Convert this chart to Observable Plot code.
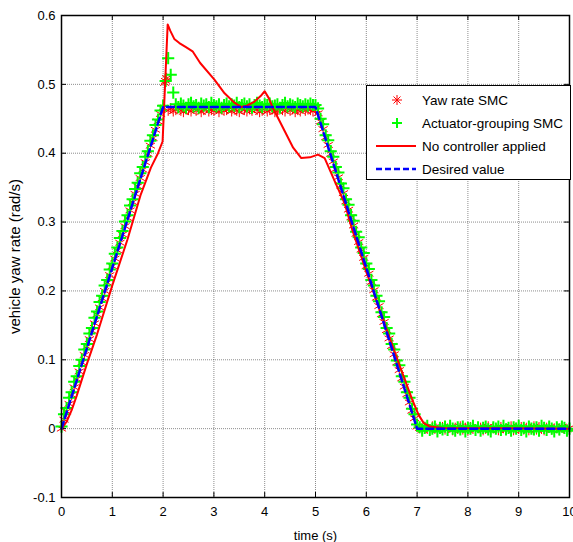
<!DOCTYPE html>
<html>
<head>
<meta charset="utf-8">
<script src="https://cdn.jsdelivr.net/npm/d3@7"></script>
<script src="https://cdn.jsdelivr.net/npm/@observablehq/plot@0.6"></script>
<style>
  html, body { margin: 0; padding: 0; background: #fff; }
  #wrap { position: relative; width: 573px; height: 542px; font-family: "Liberation Sans", Arial, sans-serif; }
  .legend { position: absolute; left: 366px; top: 85px; width: 205px; height: 95px; border: 1px solid #000; background: #fff; box-sizing: border-box; }
  .legend .row { position: absolute; left: 0; height: 22px; width: 100%; }
  .legend svg { position: absolute; left: 8px; top: 0; }
  .legend span { position: absolute; left: 55px; top: 3px; font-size: 13.5px; line-height: 16px; color: #000; white-space: nowrap; }
</style>
</head>
<body>
<div id="wrap"></div>
<script>
// Sampling instants of the two controlled responses (every 0.05 s)
const sampleTime = d3.range(0, 201).map(i => i / 20);

// Yaw rate SMC response (rad/s) at each sample
const yawSmcRate = [
  // 0 – 2 s
  0.000, 0.013, 0.025, 0.036, 0.049, 0.060, 0.072, 0.083, 0.096, 0.107,
  0.119, 0.130, 0.142, 0.153, 0.166, 0.176, 0.189, 0.200, 0.212, 0.223,
  0.236, 0.247, 0.259, 0.270, 0.282, 0.294, 0.306, 0.317, 0.329, 0.341,
  0.352, 0.364, 0.376, 0.387, 0.399, 0.411, 0.422, 0.434, 0.446, 0.457,
  0.466,
  // 2.05 s
  0.505,
  // 2.10 – 4.95 s
  0.462, 0.465, 0.461, 0.463, 0.466, 0.462, 0.460, 0.464, 0.463, 0.461,
  0.465, 0.462, 0.464, 0.460, 0.463, 0.466, 0.461, 0.463, 0.462, 0.465,
  0.460, 0.464, 0.462, 0.463, 0.466, 0.461, 0.464, 0.462, 0.460, 0.465,
  0.463, 0.461, 0.464, 0.462, 0.466, 0.463, 0.460, 0.462, 0.465, 0.461,
  0.463, 0.464, 0.460, 0.462, 0.466, 0.463, 0.461, 0.465, 0.462, 0.464,
  0.460, 0.463, 0.461, 0.465, 0.462, 0.464, 0.463, 0.461,
  // 5.00 s
  0.464,
  // 5.05 – 6.95 s
  0.458, 0.446, 0.435, 0.423, 0.412, 0.399, 0.388, 0.377, 0.365, 0.353,
  0.342, 0.330, 0.318, 0.307, 0.295, 0.283, 0.271, 0.260, 0.248, 0.236,
  0.225, 0.213, 0.201, 0.190, 0.178, 0.166, 0.155, 0.143, 0.131, 0.120,
  0.108, 0.096, 0.085, 0.073, 0.061, 0.050, 0.038, 0.026, 0.015,
  // 7.00 s
  0.003,
  // 7.05 – 10 s
  0.001, -0.002, 0.002, 0.000, -0.001, 0.003, 0.000, -0.002, 0.001, 0.002,
  -0.001, 0.000, 0.002, -0.002, 0.001, 0.000, 0.003, -0.001, 0.001, -0.002,
  0.002, 0.000, -0.001, 0.002, 0.001, -0.002, 0.000, 0.003, -0.001, 0.001,
  0.000, -0.002, 0.002, 0.001, -0.001, 0.000, 0.003, -0.002, 0.001, 0.000,
  0.002, -0.001, 0.001, -0.002, 0.000, 0.003, -0.001, 0.002, 0.000, -0.002,
  0.001, 0.002, -0.001, 0.000, 0.001, -0.002, 0.003, 0.000, -0.001, 0.001
];
// Extra samples of the yaw rate SMC overshoot just after 2 s
const yawSmcBurstTime = [2.03, 2.07];
const yawSmcBurstRate = [0.502, 0.509];

// Actuator-grouping SMC response (rad/s) at each sample
const groupSmcRate = [
  // 0 – 2 s
  0.003, 0.021, 0.030, 0.045, 0.053, 0.068, 0.076, 0.091, 0.100, 0.115,
  0.123, 0.138, 0.146, 0.161, 0.170, 0.184, 0.193, 0.208, 0.216, 0.231,
  0.240, 0.254, 0.263, 0.277, 0.287, 0.301, 0.310, 0.324, 0.333, 0.348,
  0.357, 0.371, 0.380, 0.395, 0.403, 0.418, 0.426, 0.441, 0.449, 0.462,
  0.469,
  // 2.05 – 2.20 s
  0.505, 0.538, 0.514, 0.488,
  // 2.25 – 4.95 s
  0.471, 0.467, 0.472, 0.469, 0.466, 0.471, 0.473, 0.468, 0.470, 0.466,
  0.472, 0.469, 0.471, 0.467, 0.473, 0.470, 0.468, 0.471, 0.466, 0.470,
  0.472, 0.468, 0.471, 0.469, 0.473, 0.467, 0.470, 0.472, 0.468, 0.471,
  0.466, 0.470, 0.473, 0.469, 0.467, 0.471, 0.470, 0.472, 0.468, 0.469,
  0.471, 0.466, 0.470, 0.473, 0.468, 0.471, 0.469, 0.467, 0.472, 0.470,
  0.468, 0.471, 0.469, 0.472, 0.470,
  // 5.00 s
  0.470,
  // 5.05 – 6.95 s
  0.465, 0.450, 0.442, 0.426, 0.419, 0.403, 0.395, 0.380, 0.372, 0.356,
  0.349, 0.333, 0.325, 0.310, 0.302, 0.286, 0.278, 0.263, 0.255, 0.240,
  0.232, 0.216, 0.208, 0.193, 0.185, 0.169, 0.162, 0.146, 0.138, 0.123,
  0.115, 0.099, 0.092, 0.076, 0.068, 0.053, 0.045, 0.029, 0.021,
  // 7.00 s
  0.006,
  // 7.05 – 10 s
  0.002, -0.003, 0.001, 0.004, -0.002, 0.000, 0.003, -0.004, 0.001, -0.001,
  0.003, -0.002, 0.004, 0.000, -0.003, 0.002, -0.001, 0.003, -0.004, 0.001,
  0.000, 0.004, -0.002, 0.002, -0.003, 0.001, 0.003, -0.001, -0.004, 0.002,
  0.000, 0.003, -0.002, 0.004, -0.001, 0.001, -0.003, 0.002, 0.000, 0.004,
  -0.002, 0.001, -0.004, 0.003, 0.000, -0.001, 0.002, -0.003, 0.004, 0.001,
  -0.002, 0.003, 0.000, -0.004, 0.002, -0.001, 0.003, 0.001, -0.003, 0.000
];

// Uncontrolled vehicle
const noCtrlTime = [0, 0.1, 0.2, 0.3, 0.5, 0.7, 1.0, 1.3, 1.56, 1.76, 1.9, 1.99, 2.09, 2.14, 2.22, 2.32,
  2.45, 2.58, 2.73, 3.01, 3.21, 3.41, 3.54, 3.65, 3.8, 3.92, 4.0, 4.08, 4.16, 4.36, 4.56, 4.72,
  4.89, 5.05, 5.18, 5.38, 5.58, 5.71, 6.0, 6.3, 6.6, 6.9, 7.03, 7.13, 7.25, 7.5, 10];
const noCtrlRate = [0, 0.010, 0.027, 0.048, 0.094, 0.137, 0.208, 0.275, 0.340, 0.379, 0.400, 0.417, 0.587, 0.578, 0.566, 0.560,
  0.554, 0.548, 0.531, 0.507, 0.487, 0.473, 0.467, 0.469, 0.475, 0.483, 0.490, 0.480, 0.466, 0.437, 0.408, 0.393,
  0.394, 0.398, 0.393, 0.359, 0.326, 0.292, 0.228, 0.165, 0.103, 0.043, 0.020, 0.008, 0.003, 0.001, 0];

// Reference yaw rate
const desiredTime = [0, 2, 5, 7, 10];
const desiredRate = [0, 0.467, 0.467, 0, 0];

// Axis ticks
const xTicks = [0, 1, 2, 3, 4, 5, 6, 7, 8, 9, 10];
const yTicks = [-0.1, 0, 0.1, 0.2, 0.3, 0.4, 0.5, 0.6];

const yawSmc = sampleTime.map((t, i) => ({t, v: yawSmcRate[i]}))
  .concat(yawSmcBurstTime.map((t, i) => ({t, v: yawSmcBurstRate[i]})));
const groupSmc = sampleTime.map((t, i) => ({t, v: groupSmcRate[i]}));
const noCtrl = noCtrlTime.map((t, i) => ({t, v: noCtrlRate[i]}));
const desired = desiredTime.map((t, i) => ({t, v: desiredRate[i]}));

const gridStyle = {stroke: "#000", strokeOpacity: 0.45, strokeWidth: 1, strokeDasharray: "1,1"};

const chart = Plot.plot({
  width: 573,
  height: 542,
  marginLeft: 61,
  marginRight: 4,
  marginTop: 15,
  marginBottom: 45,
  style: {fontFamily: "'Liberation Sans', Arial, sans-serif", fontSize: "13px", color: "#000", background: "#fff"},
  x: {domain: [0, 10]},
  y: {domain: [-0.1, 0.6]},
  marks: [
    Plot.gridX(xTicks, gridStyle),
    Plot.gridY(yTicks, gridStyle),
    // inward tick marks on all four sides
    Plot.tickX(xTicks, {x: d => d, insetTop: 477, stroke: "#000"}),
    Plot.tickX(xTicks, {x: d => d, insetBottom: 477, stroke: "#000"}),
    Plot.tickY(yTicks, {y: d => d, insetRight: 503, stroke: "#000"}),
    Plot.tickY(yTicks, {y: d => d, insetLeft: 503, stroke: "#000"}),
    Plot.dot(yawSmc, {x: "t", y: "v", symbol: "asterisk", r: 5, stroke: "#ff0000", strokeWidth: 1}),
    Plot.dot(groupSmc, {x: "t", y: "v", symbol: "plus", r: 4, stroke: "#00ff00", strokeWidth: 2}),
    Plot.line(noCtrl, {x: "t", y: "v", stroke: "#ff0000", strokeWidth: 2}),
    Plot.line(desired, {x: "t", y: "v", stroke: "#0000ff", strokeWidth: 2.5, strokeDasharray: "7,4"}),
    Plot.frame({stroke: "#000", strokeWidth: 1.5}),
    Plot.axisX({ticks: xTicks, tickSize: 0, tickPadding: 9, tickFormat: d => String(d),
      label: "time (s)", labelAnchor: "center", labelArrow: "none", labelOffset: 42}),
    Plot.axisY({ticks: yTicks, tickSize: 0, tickPadding: 6, tickFormat: d => String(+d.toFixed(1)),
      label: null}),
    Plot.axisY({ticks: [], tickSize: 0, label: "vehicle yaw rate (rad/s)", labelAnchor: "center",
      labelArrow: "none", labelOffset: 52, fontSize: 15})
  ]
});

const wrap = document.getElementById("wrap");
wrap.appendChild(chart);

// Legend box
const ns = "http://www.w3.org/2000/svg";
const legend = document.createElement("div");
legend.className = "legend";
const entries = [
  {label: "Yaw rate SMC", kind: "asterisk", color: "#ff0000"},
  {label: "Actuator-grouping SMC", kind: "plus", color: "#00ff00"},
  {label: "No controller applied", kind: "line", color: "#ff0000"},
  {label: "Desired value", kind: "dash", color: "#0000ff"}
];
entries.forEach((e, i) => {
  const row = document.createElement("div");
  row.className = "row";
  row.style.top = (4 + i * 23) + "px";
  const svg = document.createElementNS(ns, "svg");
  svg.setAttribute("width", 44);
  svg.setAttribute("height", 22);
  const cx = 22, cy = 10;
  const add = (d, w, dash) => {
    const p = document.createElementNS(ns, "path");
    p.setAttribute("d", d);
    p.setAttribute("stroke", e.color);
    p.setAttribute("stroke-width", w);
    p.setAttribute("fill", "none");
    if (dash) p.setAttribute("stroke-dasharray", dash);
    svg.appendChild(p);
  };
  if (e.kind === "asterisk") {
    add(`M${cx-5},${cy}H${cx+5}M${cx},${cy-5}V${cy+5}M${cx-3.5},${cy-3.5}L${cx+3.5},${cy+3.5}M${cx-3.5},${cy+3.5}L${cx+3.5},${cy-3.5}`, 1);
  } else if (e.kind === "plus") {
    add(`M${cx-5},${cy}H${cx+5}M${cx},${cy-5}V${cy+5}`, 2);
  } else if (e.kind === "line") {
    add(`M1,${cy}H41`, 2);
  } else {
    add(`M1,${cy}H41`, 2.5, "6,3");
  }
  row.appendChild(svg);
  const span = document.createElement("span");
  span.textContent = e.label;
  row.appendChild(span);
  legend.appendChild(row);
});
wrap.appendChild(legend);
</script>
</body>
</html>
